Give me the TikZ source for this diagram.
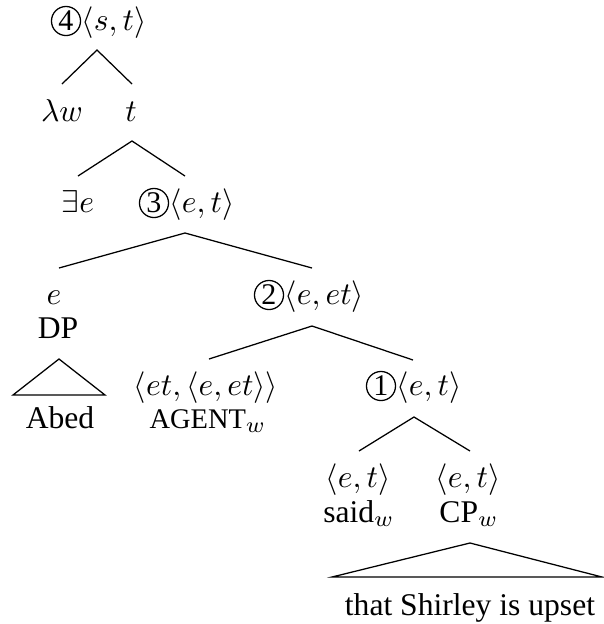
\documentclass[tikz,border=0pt]{standalone}
\usepackage{fontspec}
\setmainfont{Liberation Serif}
\begin{document}
\begin{tikzpicture}[x=0.3165pt,y=-0.3165pt,
  txt/.style={inner sep=0pt,anchor=base},
  typ/.style={inner sep=0pt,anchor=base west},
  circ/.style={circle,draw,line width=0.4pt,minimum size=9.2pt,inner sep=0pt,font=\fontsize{9.5}{9.5}\selectfont},
  branch/.style={line width=0.4pt}]
\useasboundingbox (0,0) rectangle (603,624);
% nodes
\node[typ] (t4) at (81,30) {$\langle s,t\rangle$};
\node[circ] (c4) at ([shift={(-15,-9)}]t4.base west) {4};
\node[txt] (lw) at (62,121) {$\lambda w$};
\node[txt] (t) at (131,121) {$t$};
\node[txt] (ex) at (78,212) {$\exists e$};
\node[typ] (t3) at (169,212) {$\langle e,t\rangle$};
\node[circ] (c3) at ([shift={(-15,-9)}]t3.base west) {3};
\node[txt] (e) at (54,304) {$e$};
\node[txt] (dp) at (58,338) {DP};
\node[txt] (abed) at (60,428) {Abed};
\node[typ] (t2) at (284,304) {$\langle e,et\rangle$};
\node[circ] (c2) at ([shift={(-15,-9)}]t2.base west) {2};
\node[txt] (ag) at (206,395) {$\langle et,\langle e,et\rangle\rangle$};
\node[txt] (agent) at (208,428) {{\fontsize{9}{9}\selectfont AGENT}$_w$};
\node[typ] (t1) at (396,395) {$\langle e,t\rangle$};
\node[circ] (c1) at ([shift={(-15,-9)}]t1.base west) {1};
\node[txt] (saidt) at (358,487) {$\langle e,t\rangle$};
\node[txt] (said) at (359,522) {said$_w$};
\node[txt] (cpt) at (468,487) {$\langle e,t\rangle$};
\node[txt] (cp) at (469,522) {CP$_w$};
\node[txt] (that) at (470,615) {that Shirley is upset};
% branch points
\coordinate (a4) at (97,50);  \coordinate (l4) at (62,84);  \coordinate (r4) at (132,84);
\coordinate (a5) at (132,141); \coordinate (l5) at (78,176); \coordinate (r5) at (185,176);
\coordinate (a3) at (185,233); \coordinate (l3) at (59,268); \coordinate (r3) at (312,268);
\coordinate (a2) at (312,326); \coordinate (l2) at (209,359); \coordinate (r2) at (413,360);
\coordinate (a1) at (414,417); \coordinate (l1) at (359,451); \coordinate (r1) at (470,451);
\coordinate (ta) at (59,359); \coordinate (tl) at (13,395); \coordinate (tr) at (105,395);
\coordinate (ca) at (470,543); \coordinate (cl) at (332,577); \coordinate (cr) at (602,577);
% branches
\draw[branch] (l4) -- (a4) -- (r4);
\draw[branch] (l5) -- (a5) -- (r5);
\draw[branch] (l3) -- (a3) -- (r3);
\draw[branch] (l2) -- (a2) -- (r2);
\draw[branch] (l1) -- (a1) -- (r1);
\draw[branch] (ta) -- (tl) -- (tr) -- cycle;
\draw[branch] (ca) -- (cl) -- (cr) -- cycle;
\end{tikzpicture}
\end{document}
